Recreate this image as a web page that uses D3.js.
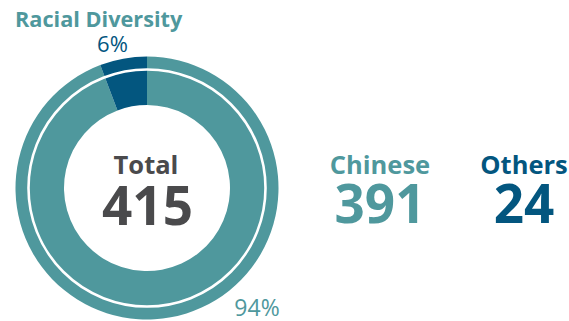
<!DOCTYPE html>
<html>
<head>
<meta charset="utf-8">
<script src="https://cdn.jsdelivr.net/npm/d3@7"></script>
<style>
  html, body { margin: 0; padding: 0; background: #fff; }
  svg { display: block; }
  text { font-family: "Open Sans", Roboto, sans-serif; }
</style>
</head>
<body>
<svg id="chart" width="569" height="321"></svg>
<script>
const categories = ["Chinese", "Others"];
const values = [391, 24];
const percentLabels = ["94%", "6%"];
const title = "Racial Diversity";
const totalLabel = "Total";
const colors = ["#4f989d", "#03567f"];
const grey = "#4a4a4c";

const svg = d3.select("#chart");
const cx = 147, cy = 188;
const outerR = 131.5, innerR = 83, gapR = 118.5;

const total = d3.sum(values);
const pie = d3.pie().sort(null).value(d => d)(values);
const arc = d3.arc().innerRadius(innerR).outerRadius(outerR);

const g = svg.append("g").attr("transform", `translate(${cx},${cy})`);
g.selectAll("path.slice").data(pie).join("path")
  .attr("class", "slice")
  .attr("d", arc)
  .attr("fill", (d, i) => colors[i]);

g.append("circle").attr("r", gapR)
  .attr("fill", "none").attr("stroke", "#fff").attr("stroke-width", 2.6);

// title
svg.append("text").attr("x", 15).attr("y", 27)
  .attr("font-size", 21.7).attr("font-weight", 700)
  .attr("fill", colors[0]).text(title);

// percent labels
svg.append("text").attr("x", 112.5).attr("y", 52)
  .attr("text-anchor", "middle").attr("font-size", 22)
  .attr("fill", colors[1]).text(percentLabels[1]);
svg.append("text").attr("x", 257).attr("y", 316)
  .attr("text-anchor", "middle").attr("font-size", 23)
  .attr("fill", colors[0]).text(percentLabels[0]);

// centre
svg.append("text").attr("x", 146).attr("y", 173.5)
  .attr("text-anchor", "middle").attr("font-size", 25.5).attr("font-weight", 700)
  .attr("fill", grey).text(totalLabel);
svg.append("text").attr("x", 147.5).attr("y", 225)
  .attr("text-anchor", "middle").attr("font-size", 53).attr("font-weight", 700)
  .attr("fill", grey).text(total);

// legend numbers
const legendX = [380, 524];
categories.forEach((c, i) => {
  svg.append("text").attr("x", legendX[i]).attr("y", 173.5)
    .attr("text-anchor", "middle").attr("font-size", 25.5).attr("font-weight", 700)
    .attr("fill", colors[i]).text(c);
  svg.append("text").attr("x", legendX[i]).attr("y", 223)
    .attr("text-anchor", "middle").attr("font-size", 53).attr("font-weight", 700)
    .attr("fill", colors[i]).text(values[i]);
});
</script>
</body>
</html>
